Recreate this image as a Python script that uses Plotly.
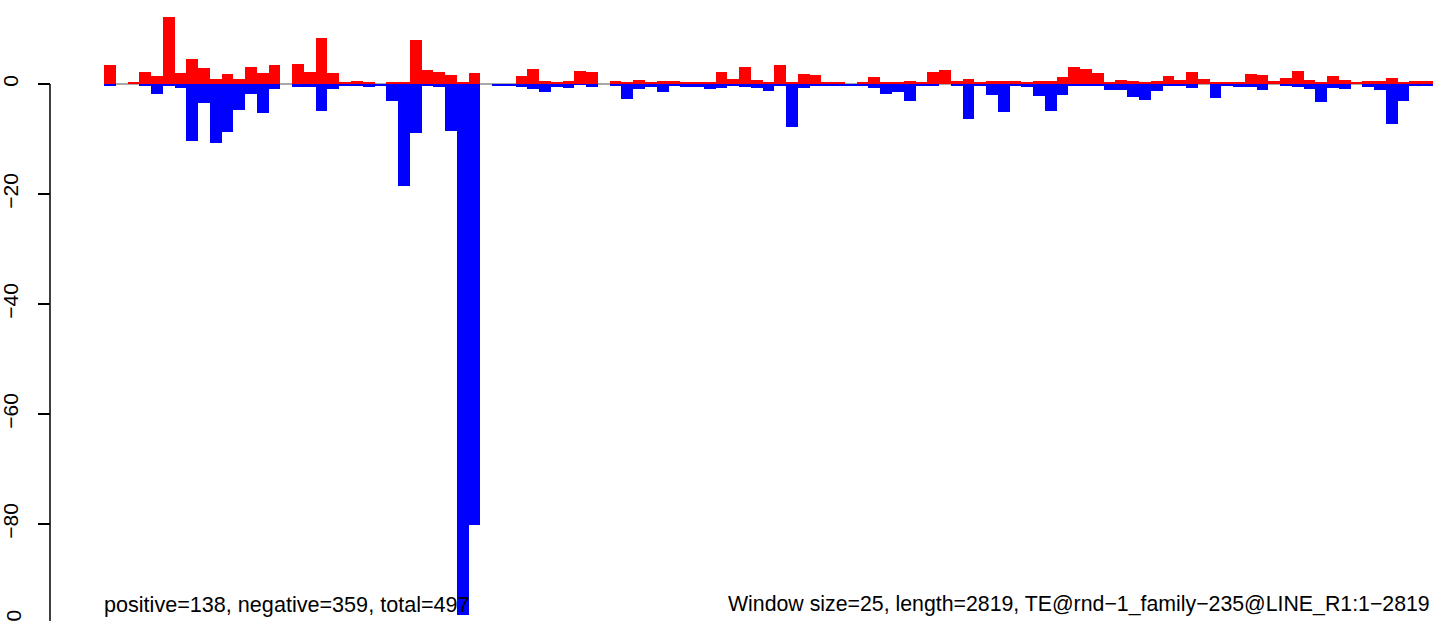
import plotly.graph_objects as go

W, H = 1433, 621

positive = [3.45, 0, 0.25, 2.2, 1.45, 12.2, 2.0, 4.5, 2.9, 0.9, 1.8, 0.9, 3.1, 2.0, 3.45, 0, 3.6, 2.2, 8.4, 2.0,
            0.2, 0.55, 0.36, 0, 0.36, 0.36, 8.0, 2.55, 2.2, 1.65, 0.2, 2.0, 0, 0, 0, 1.45, 2.7, 0.55, 0.2, 0.55,
            2.35, 2.2, 0, 0.55, 0.2, 0.7, 0.36, 0.55, 0.55, 0.36, 0.2, 0.36, 2.2, 0.9, 3.1, 0.7, 0.36, 3.45, 0.2, 1.8,
            1.65, 0.2, 0.36, 0, 0.36, 1.25, 0.2, 0.2, 0.55, 0.2, 2.2, 2.55, 0.55, 0.9, 0.36, 0.55, 0.55, 0.55, 0.2, 0.55,
            0.55, 1.25, 3.1, 2.7, 2.0, 0.36, 0.7, 0.55, 0.2, 0.55, 1.45, 0.7, 2.2, 0.9, 0.2, 0.36, 0.2, 1.8, 1.65, 0.55,
            1.1, 2.35, 0.7, 0.2, 1.45, 0.7, 0.36, 0.55, 0.55, 1.1, 0.2, 0.55, 0.55]

negative = [-0.36, 0, 0, -0.36, -1.8, -0.36, -0.7, -10.3, -3.45, -10.7, -8.7, -4.7, -1.8, -5.2, -0.9, 0, -0.55, -0.55, -4.85, -0.9,
            -0.2, -0.36, -0.55, -0.36, -3.0, -18.5, -8.85, -0.36, -0.55, -8.5, -96.5, -80.2, 0, -0.36, -0.36, -0.55, -0.9, -1.45, -0.55, -0.7,
            -0.1, -0.55, 0, -0.36, -2.7, -0.9, -0.55, -1.45, -0.36, -0.55, -0.55, -0.9, -0.7, -0.36, -0.55, -0.7, -1.3, -0.2, -7.75, -0.7,
            -0.2, -0.2, -0.36, -0.2, -0.2, -0.7, -1.8, -1.45, -3.0, -0.36, -0.36, 0, -0.36, -6.3, -0.2, -2.0, -5.0, -0.36, -0.55, -2.2,
            -4.9, -2.0, -0.36, -0.2, -0.36, -1.1, -1.1, -2.35, -2.9, -1.3, -0.36, -0.36, -0.7, 0, -2.5, -0.2, -0.55, -0.55, -1.1, 0,
            -0.36, -0.55, -0.9, -3.3, -0.7, -0.9, 0, -0.55, -1.1, -7.3, -3.1, -0.2, -0.2]

window_index = [i + 0.5 for i in range(len(positive))]
y_ticks = [0, -20, -40, -60, -80]
left_label = "positive=138, negative=359, total=497"
right_label = "Window size=25, length=2819, TE@rnd−1_family−235@LINE_R1:1−2819"

FONT = "Liberation Sans, Arial, Helvetica, sans-serif"
px_per_unit = 5.5
zero_px = 84
y_top = zero_px / px_per_unit
y_bot = -(H - zero_px) / px_per_unit
axis_x = 50 / W

fig = go.Figure()
fig.add_trace(go.Bar(x=window_index, y=positive, width=1, marker=dict(color="#FF0000", line=dict(width=0)),
                     showlegend=False, hoverinfo="skip"))
fig.add_trace(go.Bar(x=window_index, y=negative, width=1, marker=dict(color="#0000FF", line=dict(width=0)),
                     showlegend=False, hoverinfo="skip"))

fig.update_layout(
    width=W, height=H,
    margin=dict(l=0, r=0, t=0, b=0),
    paper_bgcolor="white", plot_bgcolor="white",
    barmode="relative", bargap=0,
    font=dict(family=FONT, size=21, color="black"),
    xaxis=dict(domain=[104 / W, 1], range=[0, len(positive)], showgrid=False, zeroline=False,
               showticklabels=False, ticks="", showline=False),
    yaxis=dict(range=[y_bot, y_top], anchor="free", position=axis_x, showgrid=False,
               zeroline=True, zerolinecolor="#A8A8A8", zerolinewidth=1.5,
               tickmode="array", tickvals=y_ticks, ticktext=[("−" if v < 0 else "") + str(abs(v)) for v in y_ticks],
               ticks="outside", ticklen=12, tickwidth=1.5, tickcolor="black",
               tickangle=-90, tickfont=dict(size=21, family=FONT, color="black"),
               ticklabelstandoff=12, showline=False),
)

# y axis line from 0 to -100 (R style)
fig.add_shape(type="line", xref="paper", yref="y", x0=axis_x, x1=axis_x, y0=0, y1=-100,
              line=dict(color="black", width=1.5))
# partially visible -100 tick label
fig.add_annotation(xref="paper", yref="paper", x=13 / W, y=1 - (zero_px + 100 * px_per_unit) / H,
                   text="−100", textangle=-90, showarrow=False, xanchor="center", yanchor="middle",
                   font=dict(size=21, family=FONT, color="black"))

fig.add_annotation(xref="paper", yref="paper", x=102 / W, y=1 - 604 / H, text=left_label, showarrow=False,
                   xanchor="left", yanchor="middle", font=dict(size=21.6, family=FONT, color="black"))
fig.add_annotation(xref="paper", yref="paper", x=1432 / W, y=1 - 604 / H, text=right_label, showarrow=False,
                   xanchor="right", yanchor="middle", font=dict(size=21.3, family=FONT, color="black"))

fig.write_html("out.html",
               config={"displayModeBar": False},
               post_script="document.body.style.margin='0';document.body.style.overflow='hidden';")
